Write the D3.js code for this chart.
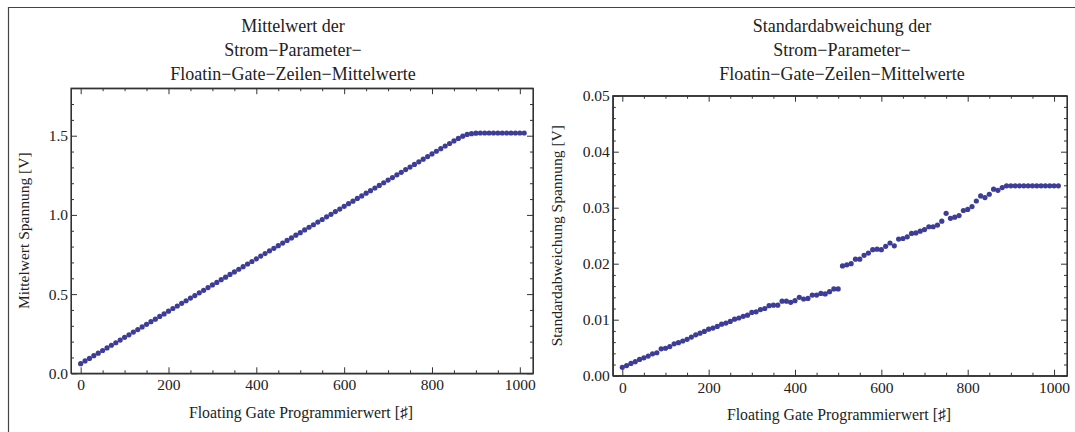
<!DOCTYPE html>
<html>
<head>
<meta charset="utf-8">
<script src="https://cdn.jsdelivr.net/npm/d3@7"></script>
<style>
  body { margin: 0; background: #fff; }
  text { font-family: "Liberation Serif", "Times New Roman", serif; fill: #222; }
  .axis path, .axis line { stroke: #333; }
</style>
</head>
<body>
<script>

// programming values 0, 10, ... 1010
const progValues = d3.range(0, 1020, 10);

const meanVolt = [
  0.061, 0.078, 0.094, 0.111, 0.127, 0.144, 0.160, 0.177, 0.193, 0.210,
  0.227, 0.243, 0.260, 0.276, 0.293, 0.309, 0.326, 0.342, 0.359, 0.375,
  0.392, 0.409, 0.425, 0.442, 0.458, 0.475, 0.491, 0.508, 0.524, 0.541,
  0.558, 0.574, 0.591, 0.607, 0.624, 0.640, 0.657, 0.673, 0.690, 0.706,
  0.723, 0.740, 0.756, 0.773, 0.789, 0.806, 0.822, 0.839, 0.855, 0.872,
  0.888, 0.905, 0.922, 0.938, 0.955, 0.971, 0.988, 1.004, 1.021, 1.037,
  1.054, 1.071, 1.087, 1.104, 1.120, 1.137, 1.153, 1.170, 1.186, 1.203,
  1.220, 1.236, 1.253, 1.269, 1.286, 1.302, 1.319, 1.335, 1.352, 1.368,
  1.385, 1.402, 1.418, 1.435, 1.451, 1.467, 1.483, 1.497, 1.508, 1.513,
  1.516, 1.517, 1.517, 1.517, 1.517, 1.517, 1.517, 1.517, 1.517, 1.517,
  1.517, 1.517
];

const stdVolt = [
  0.0015, 0.0018, 0.0022, 0.0025, 0.0029, 0.0032, 0.0035, 0.0039, 0.0041, 0.0048,
  0.0049, 0.0052, 0.0057, 0.0059, 0.0062, 0.0065, 0.0069, 0.0073, 0.0076, 0.0079,
  0.0083, 0.0085, 0.0088, 0.0092, 0.0094, 0.0097, 0.0101, 0.0103, 0.0106, 0.0108,
  0.0113, 0.0114, 0.0118, 0.0120, 0.0125, 0.0126, 0.0126, 0.0133, 0.0133, 0.0131,
  0.0134, 0.0140, 0.0137, 0.0138, 0.0144, 0.0144, 0.0147, 0.0146, 0.0150, 0.0155,
  0.0155, 0.0196, 0.0198, 0.0200, 0.0208, 0.0208, 0.0215, 0.0219, 0.0225, 0.0226,
  0.0225, 0.0231, 0.0237, 0.0232, 0.0244, 0.0245, 0.0248, 0.0254, 0.0255, 0.0258,
  0.0261, 0.0266, 0.0266, 0.0269, 0.0276, 0.0290, 0.0281, 0.0283, 0.0286, 0.0295,
  0.0297, 0.0302, 0.0312, 0.0321, 0.0318, 0.0324, 0.0333, 0.0331, 0.0336, 0.0339,
  0.0339, 0.0339, 0.0339, 0.0339, 0.0339, 0.0339, 0.0339, 0.0339, 0.0339, 0.0339,
  0.0339, 0.0339
];

const xTicks = [0, 200, 400, 600, 800, 1000];
const meanTicks = [0, 0.5, 1.0, 1.5];
const stdTicks = [0, 0.01, 0.02, 0.03, 0.04, 0.05];

const titleMean = ["Mittelwert der", "Strom\u2212Parameter\u2212", "Floatin\u2212Gate\u2212Zeilen\u2212Mittelwerte"];
const titleStd = ["Standardabweichung der", "Strom\u2212Parameter\u2212", "Floatin\u2212Gate\u2212Zeilen\u2212Mittelwerte"];
const xLabel = "Floating Gate Programmierwert [\u266F]";

const W = 1075, H = 432;
const dotColor = "#3d3d99";

const svg = d3.select("body").append("svg")
    .attr("width", W)
    .attr("height", H);

// outer border (top and left visible)
svg.append("path")
    .attr("d", "M8.5," + H + " V7.5 H" + W)
    .attr("fill", "none")
    .attr("stroke", "#444")
    .attr("stroke-width", 1.2);

/**
 * Draw one framed scatter panel.
 */
function drawPanel(opt) {
    const x = d3.scaleLinear().domain([-22, 1030]).range([opt.left, opt.right]);
    const y = d3.scaleLinear().domain(opt.yDomain).range([opt.bottom, opt.top]);

    const g = svg.append("g");

    // minor ticks
    const xMinor = d3.range(0, 1001, 50).filter(d => d % 200 !== 0);
    const yMinor = opt.yMinor;

    g.append("g").attr("class", "axis")
        .attr("transform", `translate(0,${opt.bottom})`)
        .call(d3.axisBottom(x).tickValues(xMinor).tickSizeInner(-3).tickSizeOuter(0).tickFormat(""));
    g.append("g").attr("class", "axis")
        .attr("transform", `translate(0,${opt.top})`)
        .call(d3.axisTop(x).tickValues(xMinor).tickSizeInner(-3).tickSizeOuter(0).tickFormat(""));
    g.append("g").attr("class", "axis")
        .attr("transform", `translate(${opt.left},0)`)
        .call(d3.axisLeft(y).tickValues(yMinor).tickSizeInner(-3).tickSizeOuter(0).tickFormat(""));
    g.append("g").attr("class", "axis")
        .attr("transform", `translate(${opt.right},0)`)
        .call(d3.axisRight(y).tickValues(yMinor).tickSizeInner(-3).tickSizeOuter(0).tickFormat(""));

    // major ticks
    g.append("g").attr("class", "axis")
        .attr("transform", `translate(0,${opt.bottom})`)
        .call(d3.axisBottom(x).tickValues(xTicks).tickSizeInner(-6).tickSizeOuter(0)
            .tickPadding(6).tickFormat(d3.format("d")));
    g.append("g").attr("class", "axis")
        .attr("transform", `translate(0,${opt.top})`)
        .call(d3.axisTop(x).tickValues(xTicks).tickSizeInner(-6).tickSizeOuter(0).tickFormat(""));
    g.append("g").attr("class", "axis")
        .attr("transform", `translate(${opt.left},0)`)
        .call(d3.axisLeft(y).tickValues(opt.yTicks).tickSizeInner(-6).tickSizeOuter(0)
            .tickPadding(3).tickFormat(d3.format(opt.fmt)));
    g.append("g").attr("class", "axis")
        .attr("transform", `translate(${opt.right},0)`)
        .call(d3.axisRight(y).tickValues(opt.yTicks).tickSizeInner(-6).tickSizeOuter(0).tickFormat(""));

    g.selectAll(".axis text")
        .attr("font-family", "Liberation Serif, serif")
        .attr("font-size", 15.5)
        .attr("fill", "#222");

    // frame
    g.append("rect")
        .attr("x", opt.left).attr("y", opt.top)
        .attr("width", opt.right - opt.left).attr("height", opt.bottom - opt.top)
        .attr("fill", "none").attr("stroke", "#333").attr("stroke-width", 1.2);

    // points
    g.selectAll("circle.pt")
        .data(opt.values)
        .enter().append("circle")
        .attr("class", "pt")
        .attr("cx", (d, i) => x(progValues[i]))
        .attr("cy", d => y(d))
        .attr("r", 2.6)
        .attr("fill", dotColor);

    // title
    g.append("text")
        .attr("x", opt.titleX)
        .attr("text-anchor", "middle")
        .attr("font-size", 18)
        .selectAll("tspan")
        .data(opt.title)
        .enter().append("tspan")
        .attr("x", opt.titleX)
        .attr("y", (d, i) => 32 + i * 24)
        .text(d => d);

    // x label
    g.append("text")
        .attr("x", opt.xLabelX)
        .attr("y", opt.xLabelY)
        .attr("text-anchor", "middle")
        .attr("font-size", 15.8)
        .text(xLabel);

    // y label
    g.append("text")
        .attr("transform", `translate(${opt.yLabelX},${(opt.top + opt.bottom) / 2}) rotate(-90)`)
        .attr("text-anchor", "middle")
        .attr("font-size", 15.5)
        .text(opt.yLabel);
}

drawPanel({
    left: 71, right: 533, top: 88.2, bottom: 373.3,
    yDomain: [0, 1.8],
    yTicks: meanTicks,
    yMinor: d3.range(0.1, 1.75, 0.1).filter(d => Math.abs(d * 2 - Math.round(d * 2)) > 1e-6),
    fmt: ".1f",
    values: meanVolt,
    title: titleMean,
    titleX: 293,
    xLabelX: 301, xLabelY: 418,
    yLabelX: 29,
    yLabel: "Mittelwert Spannung [V]"
});

drawPanel({
    left: 612.8, right: 1067, top: 95.7, bottom: 375.7,
    yDomain: [0, 0.05],
    yTicks: stdTicks,
    yMinor: d3.range(0.002, 0.0499, 0.002).filter(d => Math.abs(d * 100 - Math.round(d * 100)) > 1e-6),
    fmt: ".2f",
    values: stdVolt,
    title: titleStd,
    titleX: 842,
    xLabelX: 839, xLabelY: 420,
    yLabelX: 562,
    yLabel: "Standardabweichung Spannung [V]"
});

</script>
</body>
</html>
